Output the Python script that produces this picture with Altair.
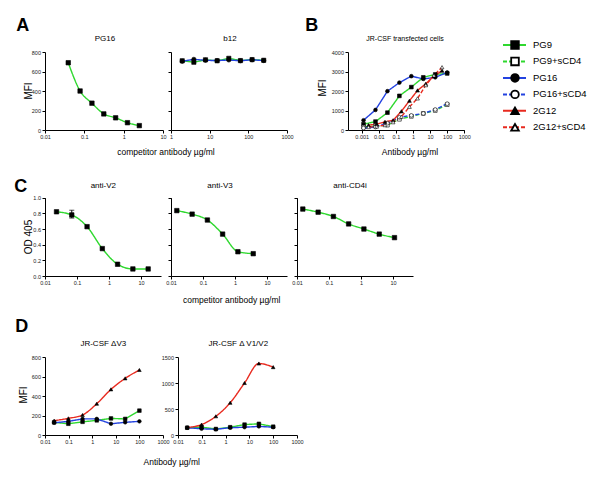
import altair as alt
import pandas as pd

FONT = "Liberation Sans"

# ---------------- legend / series definitions ----------------
SERIES = ["PG9", "PG9+sCD4", "PG16", "PG16+sCD4", "2G12", "2G12+sCD4"]
COLORS = ["#2fd82f", "#2fd82f", "#2342e0", "#2342e0", "#e82a1f", "#e82a1f"]
SHAPES = ["square", "square", "circle", "circle", "triangle-up", "triangle-up"]
FILLS = ["black", "white", "black", "white", "black", "white"]
DASHES = [[1, 0], [4, 2], [1, 0], [4, 2], [1, 0], [4, 2]]

# ---------------- Panel A ----------------
a1_x = [0.039, 0.078, 0.156, 0.3125, 0.625, 1.25, 2.5]
a1_pg9 = [690, 400, 275, 165, 125, 75, 45]

a2_x = [1.95, 3.9, 7.8, 15.6, 31.25, 62.5, 125, 250]
a2_pg9 = [710, 695, 720, 710, 735, 712, 722, 715]
a2_pg16 = [705, 725, 715, 712, 718, 710, 720, 712]

# ---------------- Panel B ----------------
b_x5 = [0.00128, 0.0064, 0.032, 0.16, 0.8, 4, 20, 100]
b_pg9 = [300, 430, 890, 1750, 2200, 2700, 2850, 2900]
b_pg9_scd4 = [150, 200, 250, 550, 700, 850, 1000, 1300]
b_pg16 = [500, 1030, 1990, 2430, 2760, 2620, 2700, 2950]
b_pg16_scd4 = [100, 150, 350, 650, 750, 850, 1050, 1350]

b_x3 = [0.0025, 0.0076, 0.023, 0.069, 0.21, 0.62, 1.85, 5.6, 16.7, 50]
b_2g12 = [250, 300, 420, 500, 960, 1500, 2030, 2370, 2770, 3040]
b_2g12_scd4 = [150, 180, 250, 400, 680, 1190, 1620, 2300, 2800, 3220]

# ---------------- Panel C ----------------
c1_x = [0.0229, 0.0686, 0.206, 0.617, 1.85, 5.56, 16.7]
c1_y = [0.82, 0.78, 0.63, 0.35, 0.15, 0.09, 0.09]
c1_err_x = [0.0686, 0.0686]
c1_err_y = [0.74, 0.84]

c2_x = [0.0152, 0.0457, 0.137, 0.41, 1.23, 3.7]
c2_y = [0.835, 0.79, 0.715, 0.535, 0.31, 0.285]

c3_x = [0.0152, 0.0457, 0.137, 0.41, 1.23, 3.7, 11.1]
c3_y = [0.855, 0.815, 0.76, 0.665, 0.60, 0.535, 0.49]

# ---------------- Panel D ----------------
d_x = [0.0244, 0.0977, 0.39, 1.5625, 6.25, 25, 100]
d1_2g12 = [147, 171, 205, 321, 468, 581, 667]
d1_pg9 = [130, 115, 135, 150, 170, 165, 250]
d1_pg16 = [125, 140, 165, 165, 115, 130, 140]
d2_2g12 = [145, 200, 360, 620, 1000, 1375, 1305]
d2_pg9 = [140, 150, 115, 150, 200, 215, 160]
d2_pg16 = [140, 120, 110, 140, 150, 165, 150]

# ---------------- layout ----------------
W, H = 585, 466
OFF = 8  # page margin


def frame(*parts):
    rows = []
    for xs, ys, s in parts:
        for xv, yv in zip(xs, ys):
            rows.append({"x": xv, "y": yv, "series": s})
    return pd.DataFrame(rows)


color_enc = alt.Color("series:N", scale=alt.Scale(domain=SERIES, range=COLORS), legend=None)
dash_enc = alt.StrokeDash("series:N", scale=alt.Scale(domain=SERIES, range=DASHES), legend=None)
shape_enc = alt.Shape("series:N", scale=alt.Scale(domain=SERIES, range=SHAPES), legend=None)
fill_enc = alt.Fill("series:N", scale=alt.Scale(domain=SERIES, range=FILLS), legend=None)


def panel(df, xdom, xpx, xticks, ydom, ypx, yticks, yfmt="d", ylabels=True,
          size=20, smooth=(), extra=None):
    x0, x1 = xpx[0] - OFF, xpx[1] - OFF
    y0, y1 = ypx[0] - OFF, ypx[1] - OFF
    xs = alt.Scale(type="log", domain=xdom, range=[x0, x1], nice=False)
    ys = alt.Scale(type="linear", domain=ydom, range=[y0, y1], nice=False, zero=False)
    xax = alt.Axis(orient="bottom", offset=y0 - H, values=xticks, format="~g", title=None,
                   grid=False, labelFlush=False, labelOverlap=False)
    yax = alt.Axis(orient="left", offset=-x0, values=yticks, format=yfmt, title=None,
                   grid=False, labels=ylabels, labelFlush=False, labelOverlap=False)
    X = alt.X("x:Q", scale=xs, axis=xax)
    Y = alt.Y("y:Q", scale=ys, axis=yax)
    layers = []
    straight = df[~df["series"].isin(smooth)]
    curved = df[df["series"].isin(smooth)]
    if len(straight):
        layers.append(alt.Chart(straight).mark_line(strokeWidth=1.4).encode(
            x=X, y=Y, color=color_enc, strokeDash=dash_enc, detail="series:N"))
    if len(curved):
        layers.append(alt.Chart(curved).mark_line(strokeWidth=1.4, interpolate="monotone").encode(
            x=X, y=Y, color=color_enc, strokeDash=dash_enc, detail="series:N"))
    if extra is not None:
        ex, ey = extra
        edf = pd.DataFrame({"x": ex, "y": ey})
        layers.append(alt.Chart(edf).mark_line(color="black", strokeWidth=1).encode(x=X, y=Y))
        layers.append(alt.Chart(edf).mark_tick(color="black", orient="horizontal", size=5,
                                               thickness=1).encode(x=X, y=Y))
    layers.append(alt.Chart(df).mark_point(filled=True, size=size, stroke="black",
                                           strokeWidth=0.6, opacity=1).encode(
        x=X, y=Y, shape=shape_enc, fill=fill_enc))
    return alt.layer(*layers)


pA1 = panel(frame((a1_x, a1_pg9, "PG9")), [0.01, 10], [45, 163], [0.01, 0.1, 1, 10],
            [0, 800], [130, 52], [0, 200, 400, 600, 800], smooth=("PG9",))
pA2 = panel(frame((a2_x, a2_pg9, "PG9"), (a2_x, a2_pg16, "PG16")), [1, 1000], [171, 287],
            [1, 10, 100, 1000], [0, 800], [130, 52], [0, 200, 400, 600, 800], ylabels=False,
            size=18)
pB = panel(frame((b_x5, b_pg9, "PG9"), (b_x5, b_pg9_scd4, "PG9+sCD4"),
                 (b_x5, b_pg16, "PG16"), (b_x5, b_pg16_scd4, "PG16+sCD4"),
                 (b_x3, b_2g12, "2G12"), (b_x3, b_2g12_scd4, "2G12+sCD4")),
           [10 ** -3.8, 1000], [348, 464.3], [0.001, 0.01, 0.1, 1, 10, 100, 1000],
           [0, 4000], [130, 52], [0, 1000, 2000, 3000, 4000], size=14)
C_TICKS = [0.0, 0.2, 0.4, 0.6, 0.8, 1.0]
pC1 = panel(frame((c1_x, c1_y, "PG9")), [0.01, 42], [45, 161], [0.01, 0.1, 1, 10],
            [0, 1], [276, 197.7], C_TICKS, yfmt=".1f", smooth=("PG9",),
            extra=(c1_err_x, c1_err_y))
pC2 = panel(frame((c2_x, c2_y, "PG9")), [0.01, 42], [171, 287], [0.01, 0.1, 1, 10],
            [0, 1], [276, 197.7], C_TICKS, yfmt=".1f", ylabels=False, smooth=("PG9",))
pC3 = panel(frame((c3_x, c3_y, "PG9")), [0.01, 42], [297, 413], [0.01, 0.1, 1, 10],
            [0, 1], [276, 197.7], C_TICKS, yfmt=".1f", ylabels=False, smooth=("PG9",))
D_X = [0.01, 0.1, 1, 10, 100, 1000]
pD1 = panel(frame((d_x, d1_2g12, "2G12"), (d_x, d1_pg9, "PG9"), (d_x, d1_pg16, "PG16")),
            [0.01, 1000], [45, 163], D_X, [0, 800], [435, 357], [0, 200, 400, 600, 800],
            size=13, smooth=("2G12",))
pD2 = panel(frame((d_x, d2_2g12, "2G12"), (d_x, d2_pg9, "PG9"), (d_x, d2_pg16, "PG16")),
            [0.01, 1000], [178, 297], D_X, [0, 1500], [435, 357], [0, 500, 1000, 1500],
            size=13, smooth=("2G12",))

# ---------------- legend (custom) ----------------
leg_df = pd.DataFrame({"series": SERIES, "row": list(range(len(SERIES)))})
leg_y = alt.Y("row:Q", scale=alt.Scale(domain=[0, 5], range=[45 - OFF, 127.3 - OFF]), axis=None)
leg_lines = alt.Chart(leg_df).mark_rule(strokeWidth=2).encode(
    x=alt.value(503 - OFF), x2=alt.value(526 - OFF), y=leg_y, color=color_enc,
    strokeDash=dash_enc)
leg_pts = alt.Chart(leg_df).mark_point(filled=True, size=58, stroke="black", strokeWidth=1.8,
                                       opacity=1).encode(
    x=alt.value(515 - OFF), y=leg_y, shape=shape_enc, fill=fill_enc)
leg_txt = alt.Chart(leg_df).mark_text(align="left", baseline="middle", fontSize=9.5,
                                      font=FONT, color="black").encode(
    x=alt.value(533 - OFF), y=leg_y, text="series:N")
legend = alt.layer(leg_lines, leg_pts, leg_txt)


# ---------------- text labels ----------------
def label(text, x, y, size, bold=False, angle=0):
    return alt.Chart(alt.Data(values=[{}])).mark_text(
        text=text, fontSize=size, fontWeight="bold" if bold else "normal", angle=angle,
        align="center", baseline="middle", font=FONT, color="black").encode(
        x=alt.value(x - OFF), y=alt.value(y - OFF))


MU = "\u00b5"
texts = [
    label("A", 22.7, 25.7, 18, bold=True),
    label("B", 311.7, 25.7, 18, bold=True),
    label("C", 20.7, 186.7, 18, bold=True),
    label("D", 21.7, 327.3, 18, bold=True),
    label("PG16", 105, 38.5, 8),
    label("b12", 230, 38.5, 8),
    label("JR-CSF transfected cells", 405, 39.3, 7),
    label("MFI", 29, 91, 10, angle=270),
    label("MFI", 323, 88, 10, angle=270),
    label("competitor antibody " + MU + "g/ml", 166, 152, 8.5),
    label("Antibody " + MU + "g/ml", 410, 152, 8.5),
    label("anti-V2", 103.3, 186, 8),
    label("anti-V3", 220, 186, 8),
    label("anti-CD4i", 350, 186, 8),
    label("OD 405", 29, 237, 10, angle=270),
    label("competitor antibody " + MU + "g/ml", 231.7, 300, 8.5),
    label("JR-CSF \u0394V3", 103.3, 344, 8),
    label("JR-CSF \u0394 V1/V2", 238.3, 344, 8),
    label("MFI", 23.5, 395, 10, angle=270),
    label("Antibody " + MU + "g/ml", 171.7, 462, 8.5),
]

chart = alt.layer(pA1, pA2, pB, pC1, pC2, pC3, pD1, pD2, legend, *texts).resolve_scale(
    x="independent", y="independent").resolve_axis(x="independent", y="independent").properties(
    width=W, height=H, autosize=alt.AutoSizeParams(type="none"), padding=0,
    background="white").configure_view(stroke=None).configure_axis(
    labelFont=FONT, labelFontSize=5.5, labelColor="#222", labelPadding=1.5,
    domainColor="black", domainWidth=1, tickColor="black", tickSize=3, tickWidth=1)

chart.save("out.html", embed_options={"renderer": "svg", "actions": False})
